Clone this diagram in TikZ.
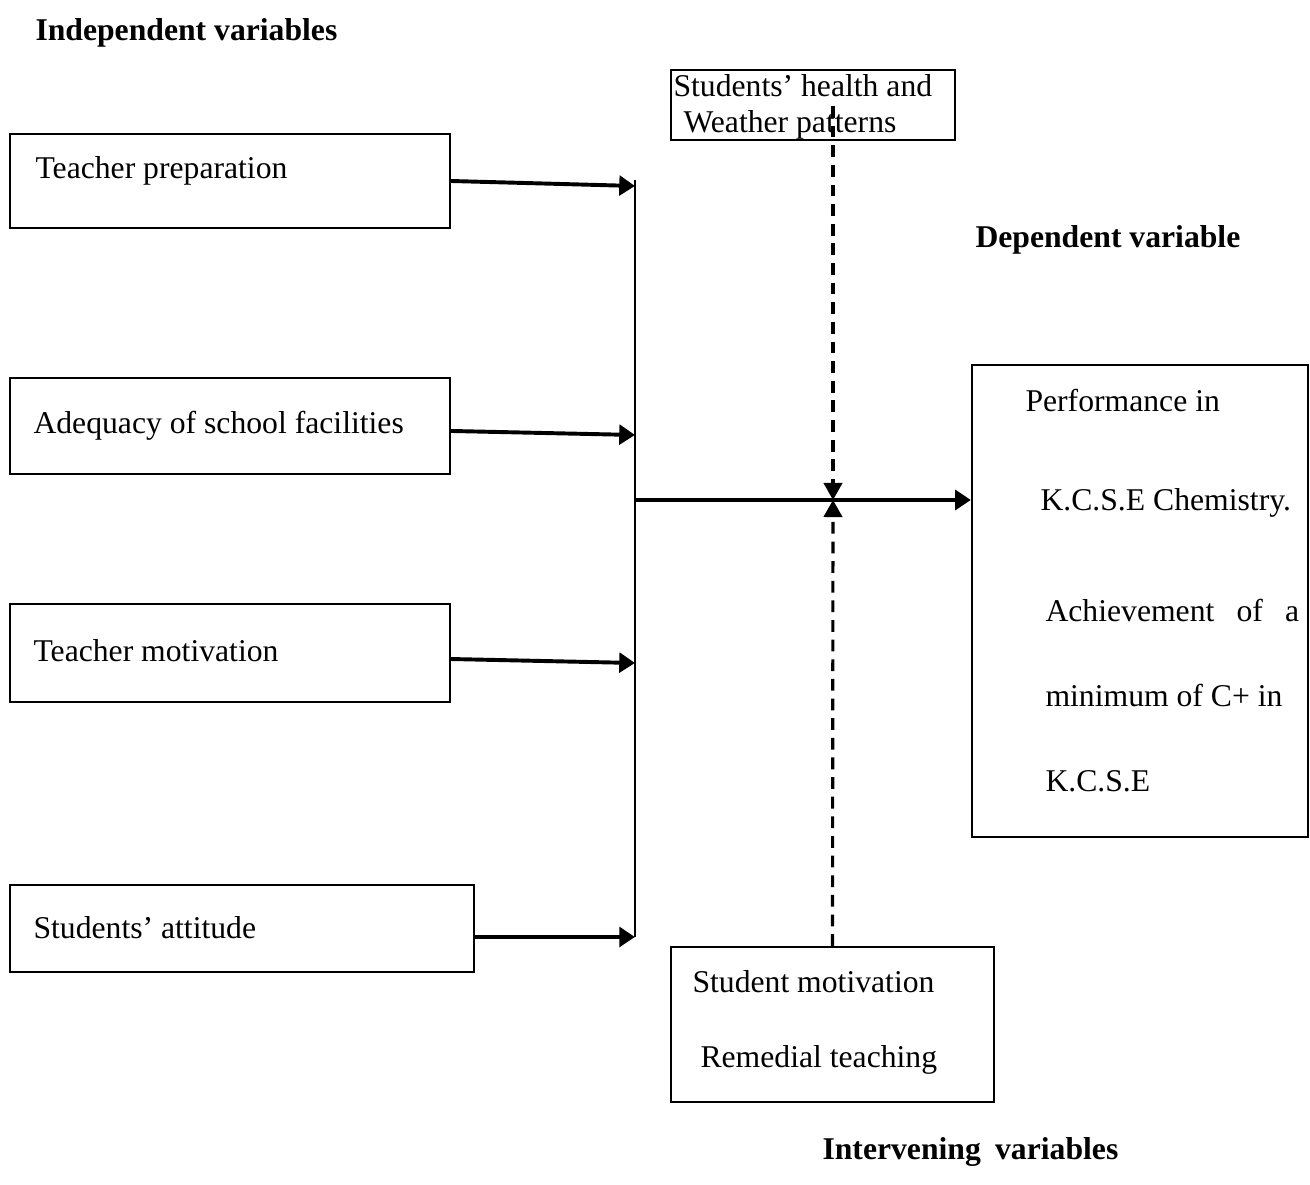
\documentclass[tikz,border=0pt]{standalone}
\usepackage{fontspec}
\setmainfont{Liberation Serif}
\usetikzlibrary{arrows.meta,positioning}

\begin{document}
\begin{tikzpicture}[x=0.382pt,y=-0.382pt,
  box/.style={draw,line width=0.8pt,inner sep=0pt},
  txt/.style={anchor=base west,inner sep=0pt,font=\fontsize{12.1}{14}\selectfont},
  head/.style={txt,font=\fontsize{12.1}{14}\selectfont\bfseries},
  feed/.style={-{Triangle[length=6pt,width=7.5pt]},line width=1.5pt},
  inter/.style={-{Triangle[length=6.5pt,width=7pt]},line width=1.2pt,dash pattern=on 4.5pt off 3pt}
]
\useasboundingbox (0,0) rectangle (1310,1185);

% headings
\node[head] (indep) at (35,41) {Independent variables};
\node[head] (dep) at (975,248) {Dependent variable};
\node[head] (interv) at (822,1160) {Intervening\hspace{0.45em}variables};

% independent variables
\node[box,minimum width=168.1pt,minimum height=35.9pt] (prep) at (230,181) {};
\node[txt] (preptxt) at (35,179) {Teacher preparation};
\node[box,minimum width=168.1pt,minimum height=36.7pt] (facil) at (230,426) {};
\node[txt] (faciltxt) at (33,434) {Adequacy of school facilities};
\node[box,minimum width=168.1pt,minimum height=37.4pt] (tmot) at (230,653) {};
\node[txt] (tmottxt) at (33,662) {Teacher motivation};
\node[box,minimum width=177.2pt,minimum height=33.2pt] (att) at (242,928.5) {};
\node[txt] (atttxt) at (33,939) {Students’ attitude};

% intervening variables
\node[box,minimum width=108.5pt,minimum height=26.7pt] (health) at (813,105) {};
\node[txt] (healthtxt1) at (673,97) {Students’ health and};
\node[txt] (healthtxt2) at (683,133) {Weather patterns};
\node[box,minimum width=123.4pt,minimum height=59.2pt] (smot) at (832.5,1024.5) {};
\node[txt] (smottxt1) at (692,993) {Student motivation};
\node[txt] (smottxt2) at (700,1068) {Remedial teaching};

% dependent variable
\node[box,minimum width=128.4pt,minimum height=180.3pt] (perf) at (1140,601) {};
\node[txt] (perftxt1) at (1025,412) {Performance in};
\node[txt] (perftxt2) at (1040,511) {K.C.S.E Chemistry.};
\node[txt] (perftxt3) at (1045,622) {Achievement\hspace{0.7em}of\hspace{0.7em}a};
\node[txt] (perftxt4) at (1045,707) {minimum of C+ in};
\node[txt] (perftxt5) at (1045,792) {K.C.S.E};

% junctions
\coordinate (bustop) at (635,180);
\coordinate (busbot) at (635,937);
\coordinate (j1) at (635,186);
\coordinate (j2) at (635,435);
\coordinate (j3) at (635,663);
\coordinate (hub) at (635,500);
\coordinate (cross) at (833,500);
\coordinate (dtop) at (833,106);

\draw[line width=0.8pt] (bustop) -- (busbot);
\draw[feed] (prep.east) -- (j1);
\draw[feed] ([yshift=-1.9pt]facil.east) -- (j2);
\draw[feed] ([yshift=-2.3pt]tmot.east) -- (j3);
\draw[feed] (att.east |- busbot) -- (busbot);
\draw[feed] (hub) -- (perf.west |- hub);
\draw[inter] (dtop) -- (cross);
\draw[inter] (smot.north) -- (cross);
\end{tikzpicture}
\end{document}
